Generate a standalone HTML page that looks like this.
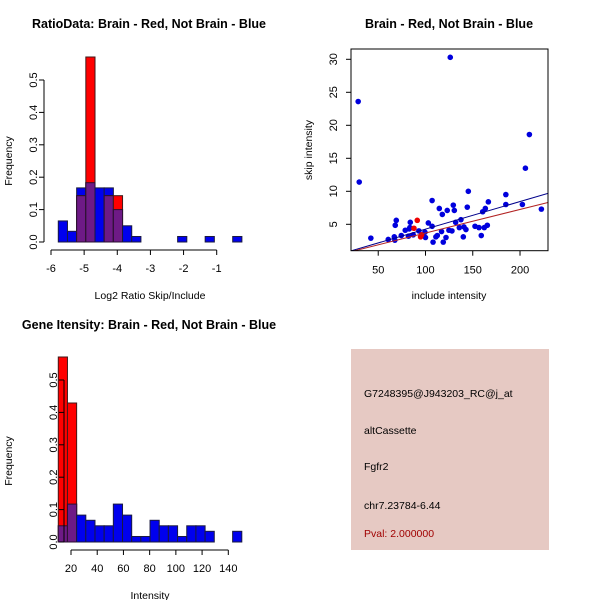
<!DOCTYPE html>
<html><head><meta charset="utf-8"><style>
body{margin:0;background:#fff}
svg{display:block;font-family:"Liberation Sans",sans-serif}
</style></head><body>
<svg id="s" width="600" height="600" viewBox="0 0 600 600">
<rect width="600" height="600" fill="#fff"/>
<text x="149" y="28" text-anchor="middle" font-size="12.5" font-weight="bold">RatioData: Brain - Red, Not Brain - Blue</text>
<text x="449" y="28" text-anchor="middle" font-size="12.5" font-weight="bold">Brain - Red, Not Brain - Blue</text>
<text x="149" y="329" text-anchor="middle" font-size="12.5" font-weight="bold">Gene Itensity: Brain - Red, Not Brain - Blue</text>
<g id="g1"></g>
<g id="g2"></g>
<g id="g3"></g>
<g>
<rect x="351" y="349" width="198" height="201" fill="#e6c9c3"/>
<text x="364" y="397" font-size="10.5">G7248395@J943203_RC@j_at</text>
<text x="364" y="434" font-size="10.5">altCassette</text>
<text x="364" y="470" font-size="10.5">Fgfr2</text>
<text x="364" y="509" font-size="10.5">chr7.23784-6.44</text>
<text x="364" y="537" font-size="10.5" fill="#a00000">Pval: 2.000000</text>
</g>
</svg>
<script>
// Ratio histogram data
const ratioBinStart = -5.78, ratioBinWidth = 0.277;
const ratioBlue = [0.065,0.033,0.167,0.183,0.167,0.167,0.1,0.05,0.017,0,0,0,0,0.017,0,0,0.017,0,0,0.017];
const ratioRed  = [0,0,0.143,0.571,0,0.143,0.143,0,0,0,0,0,0,0,0,0,0,0,0,0];
const ratioXTicks = [-6,-5,-4,-3,-2,-1];
const freqTicks = [0,0.1,0.2,0.3,0.4,0.5];
// Intensity histogram data
const intBinStart = 10.3, intBinWidth = 7;
const intBlue = [0.05,0.117,0.083,0.067,0.05,0.05,0.117,0.083,0.017,0.017,0.067,0.05,0.05,0.017,0.05,0.05,0.033,0,0,0.033];
const intRed  = [0.571,0.429,0,0,0,0,0,0,0,0,0,0,0,0,0,0,0,0,0,0];
const intXTicks = [20,40,60,80,100,120,140];
// Scatter data
const blueX = [28.8,29.9,126.2,42.2,60.6,69.1,68,67,67.6,74.4,78.6,82.8,83.9,83.5,82,87,93,99.4,100,97,103,107,107,108,111,112.5,114.6,117,117.8,118.8,121.7,123,124.8,128,129.4,130.5,131.9,135.8,137.5,140,140.7,142.8,144.2,145.3,152.4,156.6,159,160.5,162.2,163.3,165.4,166.5,185,185,202.5,205.7,209.9,222.6];
const blueY = [23.6,11.4,30.3,2.9,2.7,5.6,4.85,3.1,2.6,3.3,4.1,4.3,5.3,4.5,3.2,3.4,4,3.8,3,3.3,5.2,8.6,4.7,2.3,3.1,3.3,7.4,3.9,6.5,2.3,3.0,7.1,4.1,4.0,7.9,7.1,5.3,4.5,5.7,3.1,4.6,4.2,7.6,10.0,4.7,4.5,3.3,6.9,4.5,7.4,4.85,8.4,9.5,8,8,13.5,18.6,7.3];
const redX = [87.8,91.3,94.8,95.9];
const redY = [4.4,5.6,3.1,3.4];
const blueFit = [0.088,0.0418];
const redFit = [0.094,0.0358];
const scXTicks = [50,100,150,200];
const scYTicks = [5,10,15,20,25,30];

const NS='http://www.w3.org/2000/svg';
function mk(parent,tag,attrs){const e=document.createElementNS(NS,tag);for(const k in attrs)e.setAttribute(k,attrs[k]);parent.appendChild(e);return e;}

function hist(g,x0,x1,px0,px1,y0px,ppu,binStart,bw,blue,red,xticks,xlabel){
  const sx=v=>px0+(v-x0)*(px1-px0)/(x1-x0);
  const sy=v=>y0px-v*ppu;
  for(let i=0;i<blue.length;i++){
    const a=sx(binStart+i*bw), b=sx(binStart+(i+1)*bw);
    const bv=blue[i], rv=red[i], mn=Math.min(bv,rv);
    if(bv>0){const r=mk(g,'rect',{x:a,y:sy(bv),width:b-a,height:sy(0)-sy(bv),fill:'#0000ee',stroke:'#1a1a40','stroke-width':1});
      
      }
    if(rv>0){const r=mk(g,'rect',{x:a,y:sy(rv),width:b-a,height:sy(0)-sy(rv),fill:'#ff0000',stroke:'#401a1a','stroke-width':1});
      
      }
    if(mn>0){const r=mk(g,'rect',{x:a,y:sy(mn),width:b-a,height:sy(0)-sy(mn),fill:'#6e1a86',stroke:'#2a1030','stroke-width':1});
      
      }
  }
  const ax=px0-7;
  mk(g,'line',{x1:ax,y1:sy(0),x2:ax,y2:sy(0.5),stroke:'#000'});
  freqTicks.forEach(t=>{mk(g,'line',{x1:ax,y1:sy(t),x2:ax-5,y2:sy(t),stroke:'#000'});
    const tx=mk(g,'text',{x:ax-7,y:sy(t),'font-size':11,'text-anchor':'middle',transform:`rotate(-90 ${ax-7} ${sy(t)})`});tx.textContent=t.toFixed(1);
    
    });
  const ay=y0px+8;
  mk(g,'line',{x1:sx(xticks[0]),y1:ay,x2:sx(xticks[xticks.length-1]),y2:ay,stroke:'#000'});
  xticks.forEach(t=>{mk(g,'line',{x1:sx(t),y1:ay,x2:sx(t),y2:ay+5,stroke:'#000'});
    const tx=mk(g,'text',{x:sx(t),y:ay+22,'font-size':11,'text-anchor':'middle'});tx.textContent=t;
    
    });
  const xl=mk(g,'text',{x:150,y:y0px+57,'font-size':10.5,'text-anchor':'middle'});xl.textContent=xlabel;
  
  
  const yl=mk(g,'text',{x:12,y:sy(0.25),'font-size':10.5,'text-anchor':'middle',transform:`rotate(-90 12 ${sy(0.25)})`});yl.textContent='Frequency';
  
  
}
hist(document.getElementById('g1'),-6,-1,51,216.7,242,324,ratioBinStart,ratioBinWidth,ratioBlue,ratioRed,ratioXTicks,'Log2 Ratio Skip/Include');
hist(document.getElementById('g3'),20,140,71,228.3,542,324,intBinStart,intBinWidth,intBlue,intRed,intXTicks,'Intensity');

(function(){
  const g=document.getElementById('g2');
  const L=351,R=548,T=49,B=250.7;
  const xmin=21.2,xmax=229.6,ymin=1.0,ymax=31.56;
  const sx=v=>L+(v-xmin)*(R-L)/(xmax-xmin);
  const sy=v=>B-(v-ymin)*(B-T)/(ymax-ymin);
  const cp=mk(g,'clipPath',{id:'cp'});mk(cp,'rect',{x:L,y:T,width:R-L,height:B-T});
  blueX.forEach((x,i)=>{const c=mk(g,'circle',{cx:sx(x),cy:sy(blueY[i]),r:2.8,fill:'#0000dd'});
    
    });
  redX.forEach((x,i)=>{const c=mk(g,'circle',{cx:sx(x),cy:sy(redY[i]),r:2.8,fill:'#ee0000'});
    
    });
  const bl=mk(g,'line',{x1:sx(xmin),y1:sy(blueFit[0]+blueFit[1]*xmin),x2:sx(xmax),y2:sy(blueFit[0]+blueFit[1]*xmax),stroke:'#00008b','clip-path':'url(#cp)'});
  
  
  const rl=mk(g,'line',{x1:sx(xmin),y1:sy(redFit[0]+redFit[1]*xmin),x2:sx(xmax),y2:sy(redFit[0]+redFit[1]*xmax),stroke:'#b22222','clip-path':'url(#cp)'});
  
  
  mk(g,'rect',{x:L,y:T,width:R-L,height:B-T,fill:'none',stroke:'#000'});
  scXTicks.forEach(t=>{mk(g,'line',{x1:sx(t),y1:B,x2:sx(t),y2:B+5,stroke:'#000'});
    const tx=mk(g,'text',{x:sx(t),y:B+23,'font-size':11,'text-anchor':'middle'});tx.textContent=t;
    
    });
  scYTicks.forEach(t=>{mk(g,'line',{x1:L,y1:sy(t),x2:L-5,y2:sy(t),stroke:'#000'});
    const tx=mk(g,'text',{x:L-14,y:sy(t),'font-size':11,'text-anchor':'middle',transform:`rotate(-90 ${L-14} ${sy(t)})`});tx.textContent=t;
    
    });
  const xl=mk(g,'text',{x:449,y:299,'font-size':10.5,'text-anchor':'middle'});xl.textContent='include intensity';
  
  
  const yl=mk(g,'text',{x:312,y:150,'font-size':10.5,'text-anchor':'middle',transform:'rotate(-90 312 150)'});yl.textContent='skip intensity';
  
  
})();
</script>
</body></html>
